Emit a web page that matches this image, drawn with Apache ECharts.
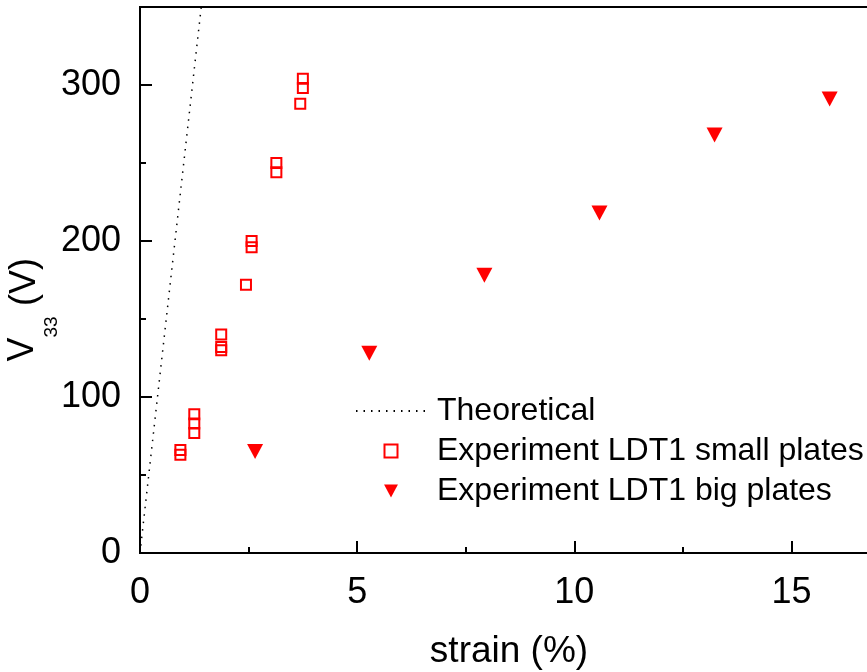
<!DOCTYPE html>
<html>
<head>
<meta charset="utf-8">
<script src="https://cdn.jsdelivr.net/npm/echarts@6/dist/echarts.min.js"></script>
<style>html,body{margin:0;padding:0;background:#fff}#c{width:867px;height:672px}</style>
</head>
<body>
<div id="c"></div>
<script>
// Data
const xTicks = [0, 5, 10, 15];
const yTicks = [0, 100, 200, 300];
const theoretical = [[0, 0], [1.41, 350]];
const smallPlates = [
  [0.93, 63], [0.93, 66],
  [1.25, 77], [1.25, 83], [1.25, 89],
  [1.87, 130], [1.87, 132], [1.87, 140],
  [2.44, 172], [2.57, 196], [2.57, 200],
  [3.14, 244], [3.14, 250],
  [3.69, 288], [3.75, 298], [3.75, 304]
];
const bigPlates = [
  [2.65, 65], [5.28, 128], [7.93, 178], [10.58, 218], [13.23, 268], [15.88, 291]
];
const names = ['Theoretical', 'Experiment LDT1 small plates', 'Experiment LDT1 big plates'];

const FONT = 'Liberation Sans, Arial, sans-serif';
const chart = echarts.init(document.getElementById('c'), null, {renderer: 'canvas'});
const tickStyle = {color: '#000', width: 2};
chart.setOption({
  backgroundColor: '#fff',
  animation: false,
  grid: {left: 140, top: 7, right: -33, bottom: 119, outerBoundsMode: 'none', containLabel: false,
         show: true, borderColor: '#000', borderWidth: 2, backgroundColor: 'transparent'},
  xAxis: [
    {type: 'value', min: 0, max: 17.5, interval: 5, position: 'bottom',
     axisLine: {lineStyle: tickStyle},
     axisTick: {inside: true, length: 12, lineStyle: tickStyle},
     axisLabel: {margin: 22, fontSize: 36, color: '#000', fontFamily: FONT, showMaxLabel: false,
       formatter: v => xTicks.indexOf(v) >= 0 ? String(v) : ''},
     splitLine: {show: false}},
    {type: 'value', min: 0, max: 17.5, interval: 2.5, position: 'bottom',
     axisLine: {show: false},
     axisTick: {inside: true, length: 6, lineStyle: tickStyle},
     axisLabel: {show: false}, splitLine: {show: false}}
  ],
  yAxis: [
    {type: 'value', min: 0, max: 350, interval: 100, position: 'left',
     axisLine: {lineStyle: tickStyle},
     axisTick: {inside: true, length: 12, lineStyle: tickStyle},
     axisLabel: {margin: 19, fontSize: 36, color: '#000', fontFamily: FONT, showMaxLabel: false,
       formatter: v => yTicks.indexOf(v) >= 0 ? String(v) : ''},
     splitLine: {show: false}},
    {type: 'value', min: 0, max: 350, interval: 50, position: 'left',
     axisLine: {show: false},
     axisTick: {inside: true, length: 6, lineStyle: tickStyle},
     axisLabel: {show: false}, splitLine: {show: false}}
  ],
  legend: {
    orient: 'vertical', left: 355, top: 395, padding: 0, itemWidth: 70, itemHeight: 13, itemGap: 8,
    textStyle: {fontSize: 32, color: '#000', fontFamily: FONT, padding: [0, 0, 0, 6]},
    data: [
      {name: names[0], itemStyle: {color: 'rgba(0,0,0,0)', borderWidth: 0, opacity: 0}},
      {name: names[1], icon: 'path://M0,0H10V10H0Z'},
      {name: names[2], icon: 'path://M0,0L16,0L8,15Z'}
    ]
  },
  graphic: [
    {type: 'text', x: 509, y: 652, style: {text: 'strain (%)', fontSize: 37, fontFamily: FONT, fill: '#000', align: 'center', verticalAlign: 'middle'}},
    {type: 'text', x: 23.5, y: 349.5, rotation: Math.PI / 2, style: {text: 'V', fontSize: 36, fontFamily: FONT, fill: '#000', align: 'center', verticalAlign: 'middle'}},
    {type: 'text', x: 52, y: 327, rotation: Math.PI / 2, style: {text: '33', fontSize: 19, fontFamily: FONT, fill: '#000', align: 'center', verticalAlign: 'middle'}},
    {type: 'text', x: 25, y: 282, rotation: Math.PI / 2, style: {text: '(V)', fontSize: 36, fontFamily: FONT, fill: '#000', align: 'center', verticalAlign: 'middle'}}
  ],
  series: [
    {name: names[0], type: 'line', data: theoretical, symbol: 'none', clip: true,
     lineStyle: {color: '#000', width: 1.5, type: [1.5, 6]}, itemStyle: {color: '#000'}},
    {name: names[1], type: 'scatter', data: smallPlates, symbol: 'rect', symbolSize: 10,
     itemStyle: {color: 'rgba(255,255,255,0)', borderColor: '#ff0000', borderWidth: 2, opacity: 1}},
    {name: names[2], type: 'scatter', data: bigPlates, symbol: 'triangle', symbolRotate: 180, symbolSize: [16, 15],
     itemStyle: {color: '#ff0000', opacity: 1}}
  ]
});
</script>
</body>
</html>
